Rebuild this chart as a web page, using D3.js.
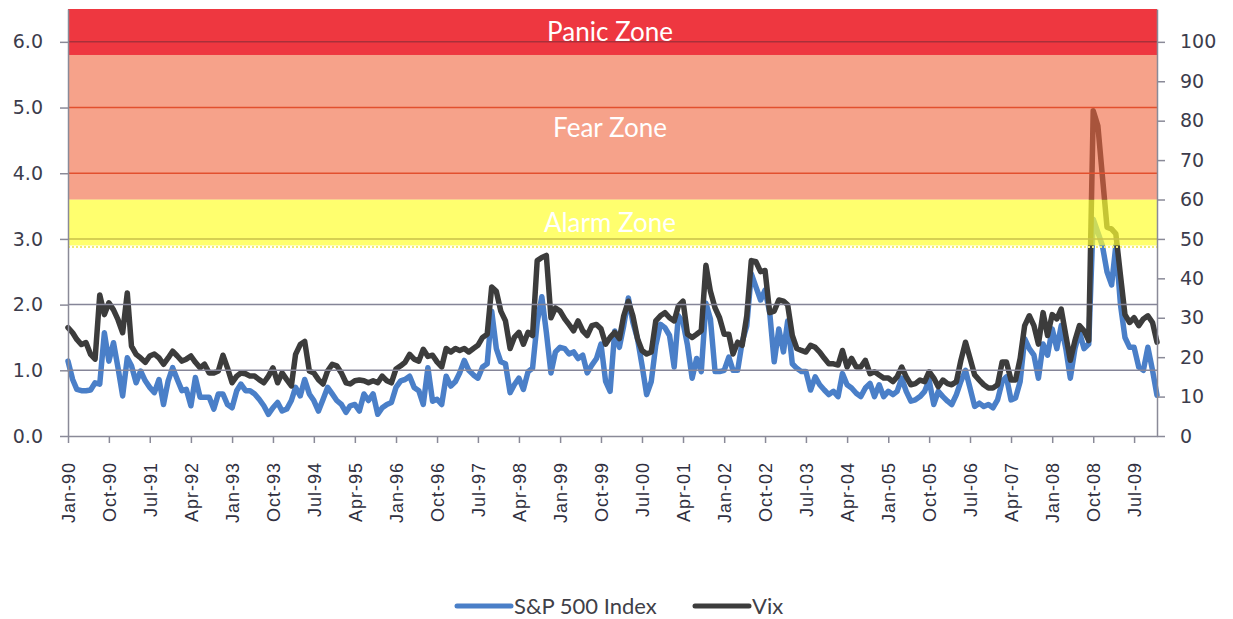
<!DOCTYPE html>
<html>
<head>
<meta charset="utf-8">
<script src="https://cdn.jsdelivr.net/npm/d3@7"></script>
<style>
body { margin: 0; background: #fff; }
svg { display: block; }
.axis text { font-family: "DejaVu Sans", sans-serif; font-size: 19px; fill: #3c3c4c; }
.axis path, .axis line { stroke: #8a8a98; stroke-width: 1.5; }
.xaxis text { font-family: "Liberation Sans", Arial, sans-serif; font-size: 18px; letter-spacing: 1px; fill: #303040; }
</style>
</head>
<body>
<svg id="chart" width="1233" height="619"></svg>
<script>
// monthly series, Jan-1990 .. Dec-2009
var start = new Date(1990, 0, 1);
var months = d3.timeMonth.range(start, new Date(2010, 0, 1));

// S&P 500 index line (left axis)
var spx = [
	1.14,0.86,0.71,0.69,0.69,0.70,0.81,0.79,1.57,1.14,1.42,1.04,
	0.61,1.19,1.07,0.81,0.99,0.84,0.74,0.66,0.86,0.48,0.84,1.04,
	0.86,0.69,0.71,0.46,0.89,0.59,0.59,0.59,0.41,0.64,0.64,0.48,
	0.43,0.69,0.79,0.69,0.69,0.64,0.56,0.46,0.33,0.43,0.51,0.38,
	0.41,0.54,0.74,0.61,0.86,0.64,0.54,0.38,0.56,0.74,0.64,0.54,
	0.48,0.36,0.46,0.48,0.38,0.64,0.54,0.64,0.33,0.43,0.48,0.51,
	0.74,0.84,0.86,0.91,0.74,0.69,0.48,1.04,0.53,0.56,0.48,0.91,
	0.76,0.83,0.96,1.15,1.00,0.93,0.88,1.05,1.10,1.90,1.33,1.13,
	1.10,0.66,0.78,0.88,0.71,0.98,1.03,1.73,2.12,1.58,0.96,1.28,
	1.35,1.33,1.25,1.28,1.18,1.23,0.96,1.08,1.18,1.40,0.83,0.68,
	1.60,1.35,1.68,2.10,1.73,1.48,1.08,0.63,0.83,1.38,1.70,1.65,
	1.53,1.05,1.83,1.73,1.38,0.88,1.18,0.98,2.02,1.78,0.98,0.98,
	1.00,1.20,1.00,1.00,1.43,1.68,2.47,2.27,2.07,2.22,1.88,1.13,
	1.63,1.28,1.75,1.10,1.03,0.98,0.98,0.70,0.90,0.78,0.70,0.63,
	0.68,0.60,0.95,0.78,0.73,0.65,0.60,0.73,0.80,0.60,0.78,0.60,
	0.68,0.63,0.68,0.88,0.68,0.53,0.55,0.60,0.68,0.85,0.48,0.68,
	0.60,0.53,0.48,0.63,0.83,1.00,0.73,0.45,0.50,0.45,0.48,0.43,
	0.55,0.83,0.90,0.55,0.58,0.83,1.48,1.33,1.23,0.88,1.40,1.23,
	1.63,1.33,1.68,1.33,0.88,1.33,1.58,1.33,1.40,3.30,3.10,2.90,
	2.50,2.30,2.90,2.00,1.50,1.35,1.35,1.05,1.00,1.35,1.00,0.62
];

// Vix (right axis)
var vix = [
	27.5,26.2,24.5,23.2,23.7,20.7,19.5,35.8,30.8,33.8,32.0,29.5,
	26.2,36.3,22.8,20.7,19.8,18.7,20.3,20.8,19.8,18.2,19.8,21.5,
	20.3,19.0,19.5,20.3,18.7,17.3,18.2,16.0,16.0,16.5,20.5,17.3,
	13.5,15.2,16.0,15.8,15.2,15.2,14.3,13.5,15.2,17.3,13.5,16.0,
	14.3,12.7,20.7,23.2,24.0,16.5,16.0,14.3,13.2,16.5,18.2,17.8,
	16.0,13.5,13.2,14.0,14.2,14.0,13.5,14.0,13.5,15.2,14.0,13.5,
	17.0,17.8,18.7,20.7,19.5,19.0,22.0,20.2,20.5,18.8,17.5,22.2,
	21.3,22.2,21.7,22.2,21.3,22.2,23.0,25.0,25.8,37.8,36.7,31.7,
	29.2,22.2,25.0,26.3,23.3,26.3,25.5,44.5,45.3,45.8,30.0,32.5,
	31.7,29.7,28.3,26.7,29.2,26.7,25.5,28.0,28.3,27.2,23.3,25.0,
	26.3,24.7,30.5,34.2,30.5,24.7,21.7,20.8,21.3,29.2,30.5,31.3,
	30.0,29.2,33.0,34.2,25.8,25.0,25.8,26.7,43.3,36.7,32.5,30.0,
	25.8,25.8,20.8,23.8,23.0,30.5,44.5,44.2,41.7,42.0,31.3,31.7,
	34.5,34.2,33.3,25.5,22.2,21.7,21.3,23.0,22.5,21.3,19.7,18.3,
	18.3,18.0,21.7,17.5,19.7,17.5,17.5,19.2,15.8,16.3,15.5,14.7,
	14.7,13.8,15.0,17.5,15.0,13.0,13.3,14.2,13.8,16.3,14.7,12.5,
	14.2,13.3,13.0,13.8,19.2,23.8,19.7,15.5,14.2,13.0,12.2,12.2,
	13.0,18.8,18.8,14.2,14.2,19.7,28.0,30.5,28.0,23.3,31.3,25.5,
	30.8,29.7,32.2,25.5,19.2,24.2,28.0,26.7,24.2,82.5,78.7,66.0,
	53.0,52.5,51.3,40.8,30.8,28.8,30.0,28.0,29.7,30.5,28.8,23.8
];

var leftTicks = [0, 1, 2, 3, 4, 5, 6];
var rightTicks = [0, 10, 20, 30, 40, 50, 60, 70, 80, 90, 100];

var zoneNames = ["Alarm Zone", "Fear Zone", "Panic Zone"];
var zoneLow = [2.9, 3.6, 5.8];
var zoneHigh = [3.6, 5.8, 6.5];
var zoneFill = ["#ffff30", "#f0643c", "#eb141f"];
var zoneAlpha = [0.7, 0.6, 0.85];

var seriesNames = ["S&P 500 Index", "Vix"];
var seriesColors = ["#4a7fc8", "#3c3c3c"];

var pLeft = 68, pRight = 1157, pTop = 9, pBottom = 436;

var svg = d3.select("#chart");

var x = d3.scaleTime()
	.domain([months[0], months[months.length - 1]])
	.range([pLeft, pRight]);
var yL = d3.scaleLinear().domain([0, 6.5]).range([pBottom, pTop]);
var yR = d3.scaleLinear().domain([0, 6.5 * 100 / 6]).range([pBottom, pTop]);

// lines first, the zones are laid over them
var lineL = d3.line()
	.x(function(d, i) { return x(months[i]); })
	.y(function(d) { return yL(d); });
var lineR = d3.line()
	.x(function(d, i) { return x(months[i]); })
	.y(function(d) { return yR(d); });

svg.append("path")
	.datum(spx)
	.attr("d", lineL)
	.attr("fill", "none")
	.attr("stroke", seriesColors[0])
	.attr("stroke-width", 5.5)
	.attr("stroke-linejoin", "round")
	.attr("stroke-linecap", "round");

svg.append("path")
	.datum(vix)
	.attr("d", lineR)
	.attr("fill", "none")
	.attr("stroke", seriesColors[1])
	.attr("stroke-width", 5.5)
	.attr("stroke-linejoin", "round")
	.attr("stroke-linecap", "round");

svg.append("g").selectAll("rect")
	.data(zoneNames)
	.enter()
	.append("rect")
	.attr("x", pLeft)
	.attr("width", pRight - pLeft)
	.attr("y", function(d, i) { return yL(zoneHigh[i]); })
	.attr("height", function(d, i) { return yL(zoneLow[i]) - yL(zoneHigh[i]); })
	.attr("fill", function(d, i) { return zoneFill[i]; })
	.attr("fill-opacity", function(d, i) { return zoneAlpha[i]; });

// dotted edge under the alarm zone
svg.append("line")
	.attr("x1", pLeft).attr("x2", pRight)
	.attr("y1", yL(zoneLow[0]) + 1.5).attr("y2", yL(zoneLow[0]) + 1.5)
	.attr("stroke", "#f4ec70")
	.attr("stroke-width", 2)
	.attr("stroke-dasharray", "2,2");

// gridlines
function gridColor(v) {
	if (v >= 6) return "#a8303a";
	if (v >= 4) return "#e2502e";
	if (v >= 3) return "#c8c048";
	return "#858598";
}
svg.append("g").selectAll("line")
	.data(leftTicks.filter(function(d) { return d > 0; }))
	.enter()
	.append("line")
	.attr("x1", pLeft).attr("x2", pRight)
	.attr("y1", function(d) { return yL(d); })
	.attr("y2", function(d) { return yL(d); })
	.attr("stroke", gridColor)
	.attr("stroke-width", 1.5);

// zone labels
svg.append("g").selectAll("text")
	.data(zoneNames)
	.enter()
	.append("text")
	.attr("x", 610)
	.attr("y", function(d, i) { return yL((zoneLow[i] + zoneHigh[i]) / 2); })
	.attr("dy", "0.36em")
	.attr("text-anchor", "middle")
	.style("font-family", "Lato, 'Open Sans', sans-serif")
	.style("font-size", "26px")
	.attr("fill", "#ffffff")
	.text(function(d) { return d; });

// axes
var LA = d3.axisLeft(yL)
	.tickValues(leftTicks)
	.tickFormat(d3.format(".1f"))
	.tickSize(8).tickSizeOuter(0)
	.tickPadding(17);
svg.append("g")
	.attr("class", "axis")
	.attr("transform", "translate(" + pLeft + ",0)")
	.call(LA);

var RA = d3.axisRight(yR)
	.tickValues(rightTicks)
	.tickSize(8).tickSizeOuter(0)
	.tickPadding(15);
svg.append("g")
	.attr("class", "axis")
	.attr("transform", "translate(" + pRight + ",0)")
	.call(RA);

var xTicks = months.filter(function(d, i) { return i % 9 == 0; });
var XA = d3.axisBottom(x)
	.tickValues(xTicks)
	.tickFormat(d3.timeFormat("%b-%y"))
	.tickSize(7).tickSizeOuter(0);
var xg = svg.append("g")
	.attr("class", "axis xaxis")
	.attr("transform", "translate(0," + pBottom + ")")
	.call(XA);
xg.selectAll("text")
	.attr("transform", "rotate(-90)")
	.attr("x", -26)
	.attr("y", 0)
	.attr("dy", "0.36em")
	.style("text-anchor", "end");

// legend
var legX = [457, 695];
var leg = svg.append("g").selectAll("g")
	.data(seriesNames)
	.enter()
	.append("g")
	.attr("transform", function(d, i) { return "translate(" + legX[i] + ",606)"; });
leg.append("line")
	.attr("x1", 0).attr("x2", 54)
	.attr("stroke", function(d, i) { return seriesColors[i]; })
	.attr("stroke-width", 5)
	.attr("stroke-linecap", "round");
leg.append("text")
	.attr("x", 57)
	.attr("dy", "0.36em")
	.style("font-family", "Lato, 'Open Sans', sans-serif")
	.style("font-size", "22px")
	.attr("fill", "#404048")
	.text(function(d) { return d; });
</script>
</body>
</html>
